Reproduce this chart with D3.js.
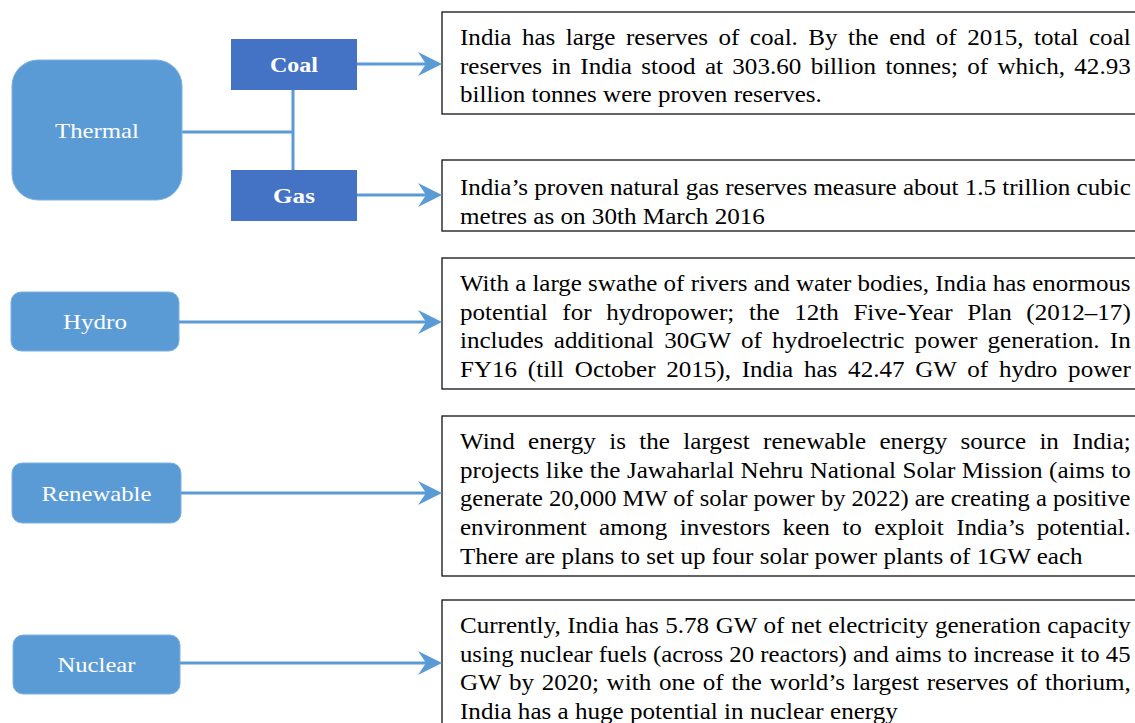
<!DOCTYPE html>
<html><head><meta charset="utf-8">
<script src="https://cdn.jsdelivr.net/npm/d3@7"></script>
<style>html,body{margin:0;padding:0;background:#fff;overflow:hidden}</style>
</head><body>
<svg id="c" width="1135" height="723"></svg>
<script>
// ---- data ----
const sources = ["Thermal", "Hydro", "Renewable", "Nuclear"];
const thermalSubs = ["Coal", "Gas"];
const coalLines = [
  "India has large reserves of coal. By the end of 2015, total coal",
  "reserves in India stood at 303.60 billion tonnes; of which, 42.93",
  "billion tonnes were proven reserves."
];
const gasLines = [
  "India\u2019s proven natural gas reserves measure about 1.5 trillion cubic",
  "metres as on 30th March 2016"
];
const hydroLines = [
  "With a large swathe of rivers and water bodies, India has enormous",
  "potential for hydropower; the 12th Five-Year Plan (2012\u201317)",
  "includes additional 30GW of hydroelectric power generation. In",
  "FY16 (till October 2015), India has 42.47 GW of hydro power"
];
const renewableLines = [
  "Wind energy is the largest renewable energy source in India;",
  "projects like the Jawaharlal Nehru National Solar Mission (aims to",
  "generate 20,000 MW of solar power by 2022) are creating a positive",
  "environment among investors keen to exploit India\u2019s potential.",
  "There are plans to set up four solar power plants of 1GW each"
];
const nuclearLines = [
  "Currently, India has 5.78 GW of net electricity generation capacity",
  "using nuclear fuels (across 20 reactors) and aims to increase it to 45",
  "GW by 2020; with one of the world\u2019s largest reserves of thorium,",
  "India has a huge potential in nuclear energy"
];

// ---- font detection ----
const cands = ["Liberation Serif", "Times New Roman", "Tinos", "Nimbus Roman",
  "Nimbus Roman No9 L", "FreeSerif", "Noto Serif", "DejaVu Serif"];
const cv = document.createElement("canvas").getContext("2d");
function w(f) { cv.font = "22px " + f; return cv.measureText("India has large reserves WMil").width; }
const base = w("monospace");
let FONTNAME = "serif";
for (const c of cands) { if (Math.abs(w(`"${c}", monospace`) - base) > 0.5) { FONTNAME = `"${c}"`; break; } }
const FONT = FONTNAME + ", serif";

// ---- layout ----
const svg = d3.select("#c");
const BLUE = "#5B9BD5", DARK = "#4472C4";
const FS = 22.5, LH = 28.7;
const textX = 460, fullW = 671;

const descs = [
  {lines: coalLines, top: 12, bottom: 114, y0: 37, lastW: 362, arrowY: 64},
  {lines: gasLines, top: 160, bottom: 231, y0: 187, lastW: 305, arrowY: 195},
  {lines: hydroLines, top: 258, bottom: 389, y0: 283, lastW: null, arrowY: 322},
  {lines: renewableLines, top: 416, bottom: 576, y0: 441, lastW: 623, arrowY: 493},
  {lines: nuclearLines, top: 600, bottom: 760, y0: 625, lastW: 438, arrowY: 663}
];

function natW(txt, size, bold) {
  cv.font = (bold ? "bold " : "") + size + "px " + FONT;
  return cv.measureText(txt).width;
}
// estimate horizontal stretch from the unjustified last lines
const ratios = descs.filter(d => d.lastW).map(d => d.lastW / natW(d.lines[d.lines.length - 1], FS));
const K = d3.mean(ratios);

function placeLine(txt, x, y, target, justify) {
  const t = svg.append("text").attr("font-size", FS).attr("fill", "#000")
    .attr("font-family", FONT).attr("x", 0).attr("y", 0).text(txt);
  const nat = t.node().getComputedTextLength();
  const spaces = (txt.match(/ /g) || []).length;
  let sx = K;
  if (!justify) {
    sx = target / nat;
  } else if (nat * K > target) {
    sx = target / nat;
  } else if (spaces > 0) {
    t.attr("word-spacing", (target - nat * K) / spaces / K);
  }
  t.attr("transform", `translate(${x},${y}) scale(${sx},1)`);
}

descs.forEach(d => {
  svg.append("rect").attr("x", 442).attr("y", d.top).attr("width", 760)
    .attr("height", d.bottom - d.top).attr("fill", "#fff")
    .attr("stroke", "#111").attr("stroke-width", 1.3);
  d.lines.forEach((ln, i) => {
    const isLast = i === d.lines.length - 1 && d.lastW;
    placeLine(ln, textX, d.y0 + i * LH + 8, isLast ? d.lastW : fullW, !isLast);
  });
});

function arrow(x1, x2, y) {
  svg.append("line").attr("x1", x1).attr("x2", x2 - 14).attr("y1", y).attr("y2", y)
    .attr("stroke", BLUE).attr("stroke-width", 3);
  svg.append("path")
    .attr("d", `M${x2},${y} L${x2 - 24},${y - 12} L${x2 - 16},${y} L${x2 - 24},${y + 12} Z`)
    .attr("fill", BLUE);
}

const srcBoxes = [
  {x: 12, y: 60, w: 170, h: 140, r: 26, tw: 84},
  {x: 11, y: 292, w: 168, h: 59, r: 10, tw: 64},
  {x: 12, y: 463, w: 169, h: 60, r: 10, tw: 110},
  {x: 13, y: 635, w: 167, h: 59, r: 10, tw: 78}
];

svg.append("line").attr("x1", 182).attr("x2", 294).attr("y1", 132).attr("y2", 132)
  .attr("stroke", BLUE).attr("stroke-width", 3);
svg.append("line").attr("x1", 293).attr("x2", 293).attr("y1", 89).attr("y2", 171)
  .attr("stroke", BLUE).attr("stroke-width", 3);

function label(txt, cx, cy, size, bold, tw) {
  const sx = tw / natW(txt, size, bold);
  svg.append("text").attr("text-anchor", "middle").attr("font-size", size)
    .attr("font-family", FONT)
    .attr("font-weight", bold ? "bold" : "normal").attr("fill", "#fff")
    .attr("transform", `translate(${cx},${cy}) scale(${sx},1)`).text(txt);
}

sources.forEach((s, i) => {
  const b = srcBoxes[i];
  svg.append("rect").attr("x", b.x).attr("y", b.y).attr("width", b.w).attr("height", b.h)
    .attr("rx", b.r).attr("fill", BLUE).attr("stroke", "#7fb2e0").attr("stroke-width", 1);
  label(s, b.x + b.w / 2, b.y + b.h / 2 + 7.5, 22, false, b.tw);
});

[2, 3, 4].forEach((di, k) => {
  const b = srcBoxes[k + 1];
  arrow(b.x + b.w, 442, descs[di].arrowY);
});

const subBoxes = [{y: 39, tw: 48}, {y: 170, tw: 42}];
thermalSubs.forEach((s, i) => {
  const y = subBoxes[i].y;
  svg.append("rect").attr("x", 231).attr("y", y).attr("width", 126).attr("height", 51)
    .attr("fill", DARK);
  label(s, 294, y + 25.5 + 7.5, 22, true, subBoxes[i].tw);
  arrow(357, 442, descs[i].arrowY);
});
</script>
</body></html>
